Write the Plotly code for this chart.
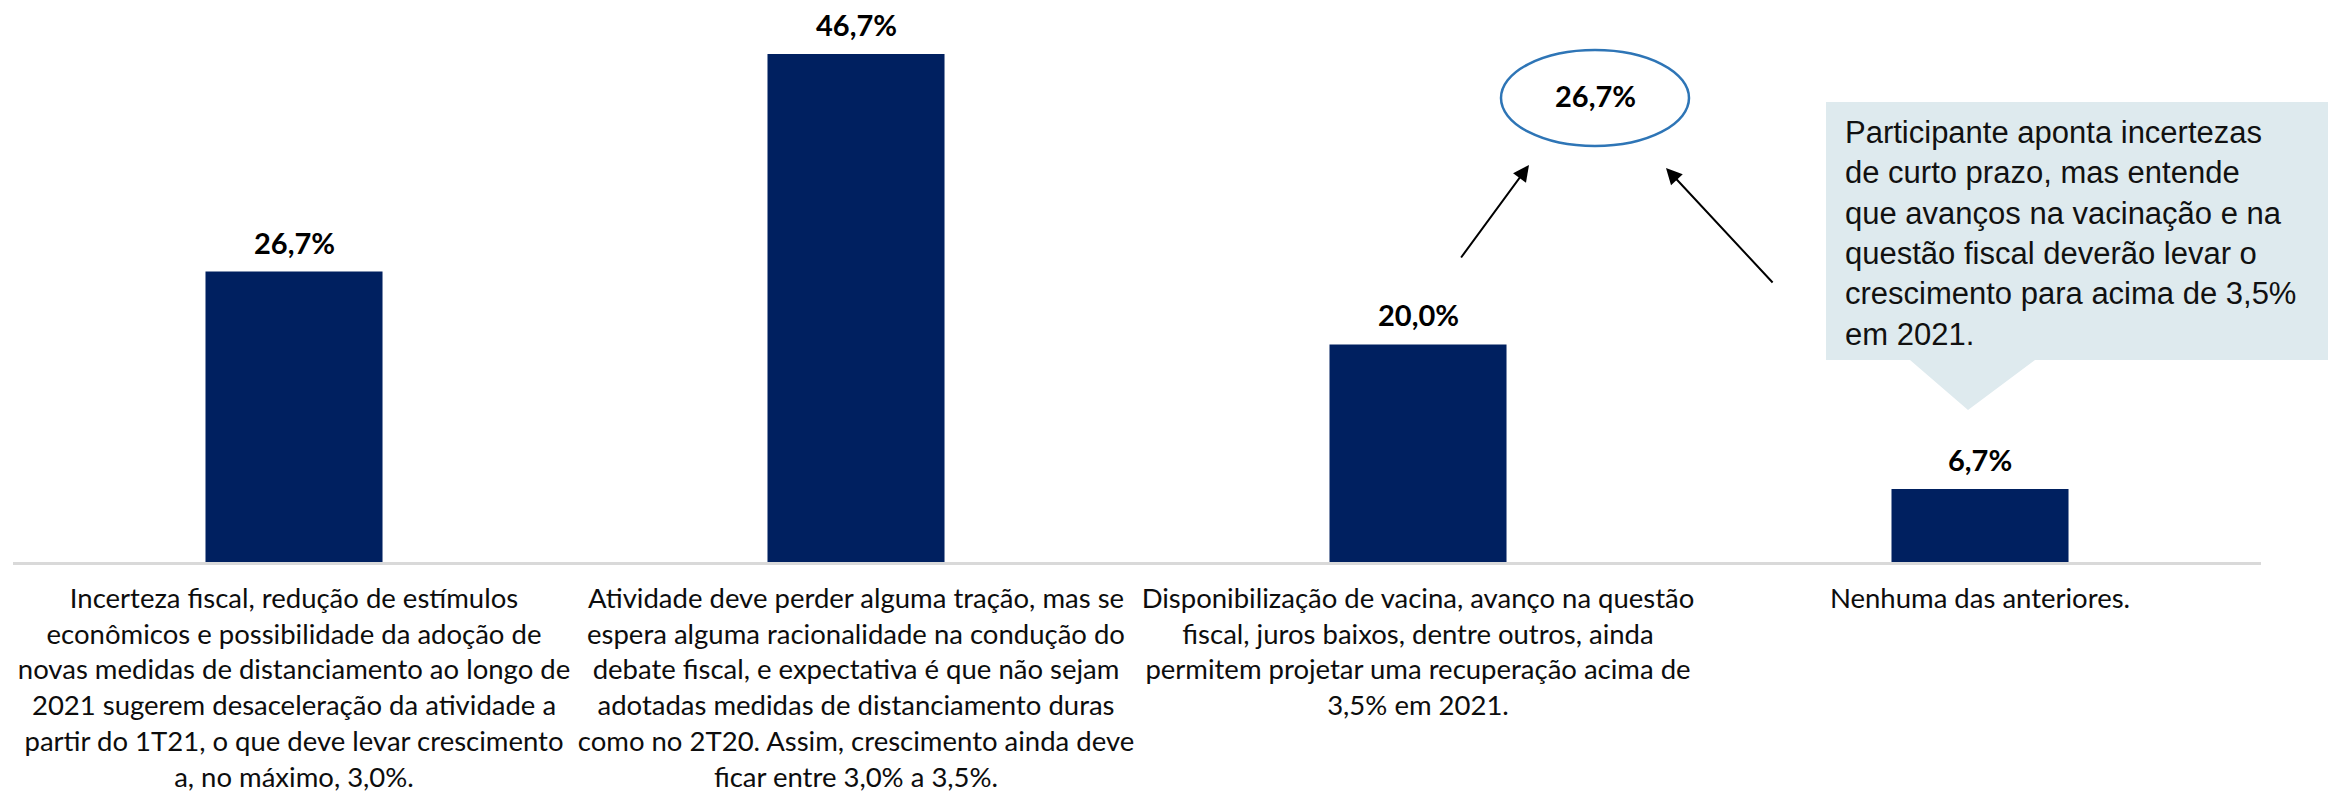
import plotly.graph_objects as go

# ---------------- data ----------------
categories = [
    "Incerteza fiscal, redução de estímulos<br>econômicos e possibilidade da adoção de<br>novas medidas de distanciamento ao longo de<br>2021 sugerem desaceleração da atividade a<br>partir do 1T21, o que deve levar crescimento<br>a, no máximo, 3,0%.",
    "Atividade deve perder alguma tração, mas se<br>espera alguma racionalidade na condução do<br>debate fiscal, e expectativa é que não sejam<br>adotadas medidas de distanciamento duras<br>como no 2T20. Assim, crescimento ainda deve<br>ficar entre 3,0% a 3,5%.",
    "Disponibilização de vacina, avanço na questão<br>fiscal, juros baixos, dentre outros, ainda<br>permitem projetar uma recuperação acima de<br>3,5% em 2021.",
    "Nenhuma das anteriores.",
]
values = [26.7, 46.7, 20.0, 6.7]
highlight_value = 26.7
callout_lines = [
    "Participante aponta incertezas",
    "de curto prazo, mas entende",
    "que avanços na vacinação e na",
    "questão fiscal deverão levar o",
    "crescimento para acima de 3,5%",
    "em 2021.",
]

def fmt(v):
    return f"{v:.1f}".replace(".", ",") + "%"

# ---------------- layout constants ----------------
OFF = 8                      # default page body margin
FW, FH = 2336 - OFF, 792 - OFF
X0, X1, Y0, Y1 = 13, 2261, 18, 562   # plot area in screen pixels
ML, MR = X0 - OFF, FW - (X1 - OFF)
MT, MB = Y0 - OFF, FH - (Y1 - OFF)

def px(x):
    return (x - X0) / (X1 - X0)

def py(y):
    return (Y1 - y) / (Y1 - Y0)

x_idx = list(range(len(categories)))

fig = go.Figure()
fig.add_trace(go.Bar(
    x=x_idx, y=values,
    marker=dict(color="#002060", line=dict(width=0)),
    hoverinfo="skip",
))

annotations = []
for i, v in zip(x_idx, values):
    annotations.append(dict(
        x=i, y=v, xref="x", yref="y", text=f"<b>{fmt(v)}</b>",
        showarrow=False, yanchor="bottom", yshift=10,
        font=dict(family="Lato", size=29, color="#000000"),
    ))

# highlighted value in ellipse
annotations.append(dict(
    x=px(1595), y=py(95), xref="paper", yref="paper",
    text=f"<b>{fmt(highlight_value)}</b>", showarrow=False,
    xanchor="center", yanchor="middle",
    font=dict(family="Lato", size=29, color="#000000"),
))

# arrows
annotations.append(dict(
    x=px(1529), y=py(165), xref="paper", yref="paper", text="",
    showarrow=True, ax=1460 - 1529, ay=259 - 165,
    arrowhead=2, arrowsize=1.6, arrowwidth=2, arrowcolor="#000000",
))
annotations.append(dict(
    x=px(1666), y=py(168), xref="paper", yref="paper", text="",
    showarrow=True, ax=1774 - 1666, ay=284 - 168,
    arrowhead=2, arrowsize=1.6, arrowwidth=2, arrowcolor="#000000",
))

# callout text
annotations.append(dict(
    x=px(1843), y=py(113), xref="paper", yref="paper",
    text="<br>".join(callout_lines), showarrow=False,
    xanchor="left", yanchor="top", align="left",
    font=dict(family="Liberation Sans, Arial", size=31, color="#111111"),
))

shapes = [
    # ellipse
    dict(type="circle", xref="paper", yref="paper",
         x0=px(1501), x1=px(1689), y0=py(146), y1=py(50),
         line=dict(color="#2e75b6", width=2.5), fillcolor="rgba(0,0,0,0)"),
    # callout box with pointer
    dict(type="path", xref="paper", yref="paper",
         path=(f"M {px(1826)},{py(102)} L {px(2329)},{py(102)} L {px(2329)},{py(360)} "
               f"L {px(2035)},{py(360)} L {px(1968)},{py(410)} L {px(1910)},{py(360)} "
               f"L {px(1826)},{py(360)} Z"),
         fillcolor="#deeaee", line=dict(width=0), layer="below"),
]

fig.update_layout(
    template="none",
    width=FW, height=FH,
    margin=dict(l=ML, r=MR, t=MT, b=MB, pad=0),
    paper_bgcolor="white", plot_bgcolor="white",
    showlegend=False,
    bargap=0.685,
    annotations=annotations,
    shapes=shapes,
    xaxis=dict(
        range=[-0.5, len(categories) - 0.5],
        tickmode="array", tickvals=x_idx, ticktext=categories,
        showline=True, linecolor="#d9d9d9", linewidth=2.5,
        showgrid=False, zeroline=False, ticks="",
        ticklabelstandoff=10,
        tickfont=dict(family="Lato", size=27.5, color="#0d0d0d"),
        automargin=False, fixedrange=True,
    ),
    yaxis=dict(
        range=[0, 50], visible=False, showgrid=False, zeroline=False,
        automargin=False, fixedrange=True,
    ),
)

fig.write_html("out.html")
